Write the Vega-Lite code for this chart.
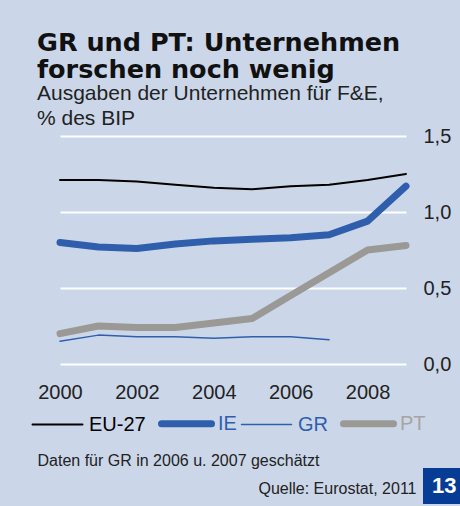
{
  "$schema": "https://vega.github.io/schema/vega-lite/v6.json",
  "autosize": {"type": "none"},
  "width": 346,
  "height": 228,
  "padding": {"left": 60, "top": 136, "right": 54, "bottom": 142},
  "background": "#cbd7e9",
  "config": {
    "view": {"stroke": null},
    "font": "Liberation Sans"
  },
  "title": {
    "text": ["GR und PT: Unternehmen", "forschen noch wenig"],
    "subtitle": ["Ausgaben der Unternehmen für F&E,", "% des BIP"],
    "anchor": "start",
    "frame": "group",
    "dx": -23,
    "offset": -3,
    "font": "DejaVu Sans",
    "fontSize": 25.5,
    "fontWeight": "bold",
    "lineHeight": 27,
    "color": "#111111",
    "subtitleFont": "Liberation Sans",
    "subtitleFontSize": 21,
    "subtitleLineHeight": 25,
    "subtitleColor": "#222222",
    "subtitlePadding": 0
  },
  "layer": [
    {
      "data": {
        "values": [
          {"year": 2000, "series": "EU-27", "value": 1.21},
          {"year": 2001, "series": "EU-27", "value": 1.21},
          {"year": 2002, "series": "EU-27", "value": 1.20},
          {"year": 2003, "series": "EU-27", "value": 1.18},
          {"year": 2004, "series": "EU-27", "value": 1.16},
          {"year": 2005, "series": "EU-27", "value": 1.15},
          {"year": 2006, "series": "EU-27", "value": 1.17},
          {"year": 2007, "series": "EU-27", "value": 1.18},
          {"year": 2008, "series": "EU-27", "value": 1.21},
          {"year": 2009, "series": "EU-27", "value": 1.25},
          {"year": 2000, "series": "IE", "value": 0.80},
          {"year": 2001, "series": "IE", "value": 0.77},
          {"year": 2002, "series": "IE", "value": 0.76},
          {"year": 2003, "series": "IE", "value": 0.79},
          {"year": 2004, "series": "IE", "value": 0.81},
          {"year": 2005, "series": "IE", "value": 0.82},
          {"year": 2006, "series": "IE", "value": 0.83},
          {"year": 2007, "series": "IE", "value": 0.85},
          {"year": 2008, "series": "IE", "value": 0.94},
          {"year": 2009, "series": "IE", "value": 1.17},
          {"year": 2000, "series": "GR", "value": 0.15},
          {"year": 2001, "series": "GR", "value": 0.19},
          {"year": 2002, "series": "GR", "value": 0.18},
          {"year": 2003, "series": "GR", "value": 0.18},
          {"year": 2004, "series": "GR", "value": 0.17},
          {"year": 2005, "series": "GR", "value": 0.18},
          {"year": 2006, "series": "GR", "value": 0.18},
          {"year": 2007, "series": "GR", "value": 0.16},
          {"year": 2000, "series": "PT", "value": 0.20},
          {"year": 2001, "series": "PT", "value": 0.25},
          {"year": 2002, "series": "PT", "value": 0.24},
          {"year": 2003, "series": "PT", "value": 0.24},
          {"year": 2004, "series": "PT", "value": 0.27},
          {"year": 2005, "series": "PT", "value": 0.30},
          {"year": 2006, "series": "PT", "value": 0.45},
          {"year": 2007, "series": "PT", "value": 0.60},
          {"year": 2008, "series": "PT", "value": 0.75},
          {"year": 2009, "series": "PT", "value": 0.78}
        ]
      },
      "mark": {"type": "line", "strokeCap": "round", "strokeJoin": "round"},
      "encoding": {
        "x": {
          "field": "year",
          "type": "quantitative",
          "scale": {"domain": [2000, 2009], "nice": false, "zero": false},
          "axis": {
            "values": [2000, 2002, 2004, 2006, 2008],
            "format": "d",
            "grid": false,
            "domain": false,
            "ticks": false,
            "tickSize": 0,
            "labelFlush": false,
            "labelFont": "Liberation Sans",
            "labelFontSize": 20,
            "labelColor": "#222222",
            "labelBaseline": "alphabetic",
            "labelPadding": 34,
            "title": "Daten für GR in 2006 u. 2007 geschätzt",
            "titleFont": "Liberation Sans",
            "titleFontSize": 16,
            "titleFontWeight": "normal",
            "titleColor": "#222222",
            "titleAlign": "left",
            "titleBaseline": "alphabetic",
            "titleX": -23,
            "titleY": 101
          }
        },
        "y": {
          "field": "value",
          "type": "quantitative",
          "scale": {"domain": [0, 1.5], "nice": false},
          "axis": {
            "orient": "right",
            "values": [0, 0.5, 1, 1.5],
            "labelExpr": "replace(format(datum.value, '.1f'), '.', ',')",
            "grid": true,
            "gridColor": "#ffffff",
            "gridWidth": 2,
            "gridOpacity": 1,
            "domain": false,
            "ticks": false,
            "tickSize": 0,
            "labelFont": "Liberation Sans",
            "labelFontSize": 20,
            "labelColor": "#222222",
            "labelPadding": 17,
            "title": "Quelle: Eurostat, 2011",
            "titleAngle": 0,
            "titleFont": "Liberation Sans",
            "titleFontSize": 16,
            "titleFontWeight": "normal",
            "titleColor": "#222222",
            "titleAlign": "right",
            "titleBaseline": "alphabetic",
            "titleX": 10,
            "titleY": 357
          }
        },
        "color": {
          "field": "series",
          "type": "nominal",
          "scale": {
            "domain": ["EU-27", "IE", "GR", "PT"],
            "range": ["#000000", "#2f5fac", "#2f5fac", "#9b9995"]
          },
          "legend": {
            "orient": "none",
            "direction": "horizontal",
            "columns": 4,
            "legendX": -31,
            "legendY": 259,
            "padding": 0,
            "title": null,
            "symbolType": "stroke",
            "symbolSize": 2500,
            "symbolStrokeWidth": 2,
            "labelFont": "Liberation Sans",
            "labelFontSize": 20,
            "labelOffset": 3,
            "columnPadding": 1,
            "encode": {
              "labels": {"update": {"fill": {"signal": "datum.value === 'EU-27' ? '#000000' : (datum.value === 'PT' ? '#a6a4a1' : '#2f5fac')"}}},
              "symbols": {"update": {
                "strokeWidth": {"signal": "datum.value === 'IE' || datum.value === 'PT' ? 7 : (datum.value === 'EU-27' ? 2 : 1.5)"},
                "strokeCap": {"value": "round"}
              }}
            }
          }
        },
        "strokeWidth": {
          "field": "series",
          "type": "ordinal",
          "scale": {"type": "ordinal", "domain": ["EU-27", "IE", "GR", "PT"], "range": [2, 7, 1.5, 7]},
          "legend": null
        },
        "order": {"field": "year", "type": "quantitative"}
      }
    },
    {
      "data": {"values": [{"page": "13"}]},
      "mark": {"type": "point", "opacity": 0},
      "encoding": {
        "shape": {
          "field": "page",
          "type": "nominal",
          "legend": {
            "orient": "none",
            "legendX": 363,
            "legendY": 332,
            "padding": 7,
            "fillColor": "#063c96",
            "title": null,
            "symbolSize": 0,
            "symbolOpacity": 0,
            "symbolStrokeWidth": 0,
            "labelOffset": -20,
            "labelColor": "#ffffff",
            "labelFont": "Liberation Sans",
            "labelFontSize": 22,
            "labelFontWeight": "bold"
          }
        }
      }
    }
  ]
}
